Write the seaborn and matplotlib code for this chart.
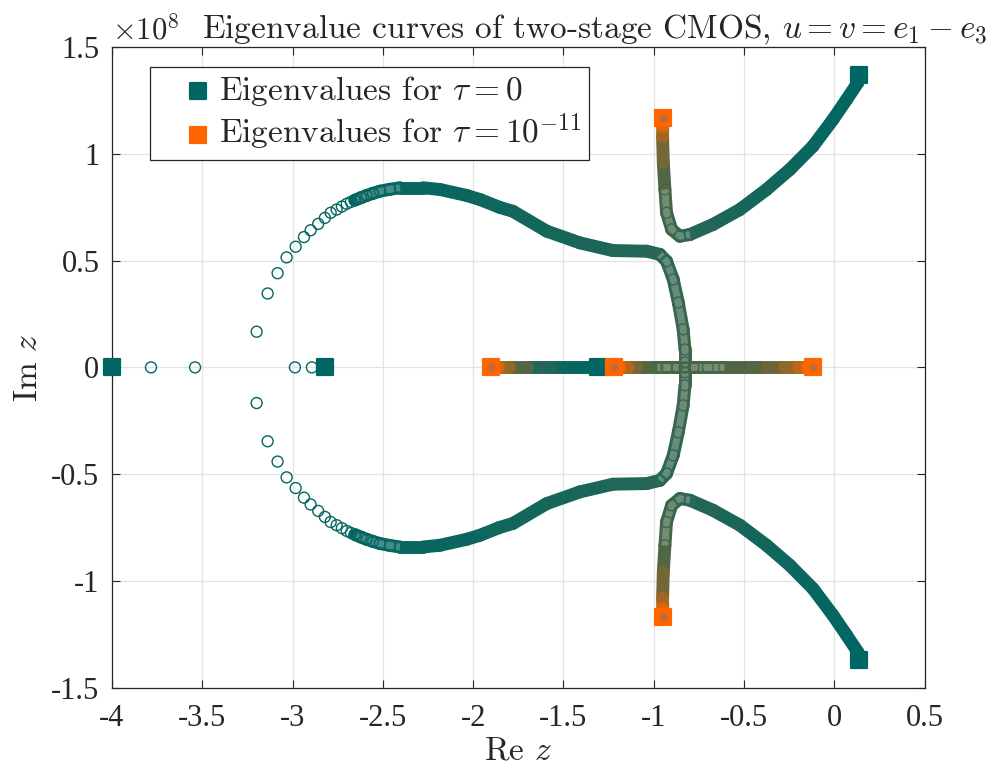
import numpy as np
import matplotlib
matplotlib.use("Agg")
import matplotlib.pyplot as plt
from matplotlib.collections import LineCollection
import seaborn as sns

# end colours: tau = 0 (teal) and tau = 1e-11 (orange)
teal = np.array([0.0, 0.40, 0.39])
orange = np.array([1.0, 0.40, 0.0])

# eigenvalues at the two ends (Im in units of 1e8)
ev0_re = [-4.0, -2.82, -1.31, 0.136, 0.136]
ev0_im = [0.0, 0.0, 0.0, 1.37, -1.37]
ev1_re = [-1.90, -1.22, -0.118, -0.947, -0.947]
ev1_im = [0.0, 0.0, 0.0, 1.168, -1.168]

# loose circles on the real axis near -4 and -2.8
axis_re = [-3.784, -3.54, -2.987, -2.893]
axis_s = [0.01, 0.01, 0.01, 0.01]

# left loop (upper half, conjugate drawn too): loose circles
loop_re = [-3.199, -3.138, -3.083, -3.033, -2.983, -2.937, -2.900, -2.858, -2.821, -2.789,
           -2.756, -2.727, -2.700, -2.677, -2.655]
loop_im = [0.167, 0.346, 0.441, 0.515, 0.565, 0.610, 0.642, 0.672, 0.700, 0.724,
           0.739, 0.753, 0.766, 0.775, 0.783]
# left loop: chain part
loopc_re = [-2.655, -2.620, -2.590, -2.555, -2.516, -2.460, -2.405]
loopc_im = [0.783, 0.795, 0.805, 0.815, 0.825, 0.834, 0.841]
loopc_s = [0.01, 0.02, 0.02, 0.02, 0.02, 0.03, 0.03]
# left loop: dense part
loopd_re = [-2.405, -2.278, -2.184, -2.036, -1.962, -1.852, -1.780, -1.593, -1.409, -1.226, -1.039, -0.966]
loopd_im = [0.841, 0.841, 0.833, 0.805, 0.786, 0.749, 0.731, 0.638, 0.583, 0.547, 0.544, 0.529]
loopd_s = [0.03, 0.03, 0.04, 0.05, 0.05, 0.06, 0.06, 0.08, 0.10, 0.12, 0.14, 0.15]
# left loop: descent to the real axis
desc_re = [-0.966, -0.929, -0.892, -0.864, -0.837, -0.827, -0.827]
desc_im = [0.529, 0.497, 0.412, 0.304, 0.178, 0.084, 0.023]
desc_s = [0.15, 0.17, 0.19, 0.21, 0.23, 0.24, 0.25]

# right branch from 0.136+1.37i
rb_re = [0.136, 0.131, 0.068, -0.008, -0.118, -0.246, -0.375, -0.523, -0.672, -0.800]
rb_im = [1.37, 1.334, 1.254, 1.160, 1.036, 0.927, 0.833, 0.739, 0.669, 0.622]
rb_s = [0.0, 0.0, 0.01, 0.02, 0.03, 0.05, 0.07, 0.09, 0.12, 0.16]
rbc_re = [-0.800, -0.855, -0.901, -0.929, -0.938]
rbc_im = [0.622, 0.614, 0.646, 0.724, 0.833]
rbc_s = [0.16, 0.20, 0.22, 0.25, 0.28]
rbu_re = [-0.938, -0.947, -0.951, -0.950, -0.947]
rbu_im = [0.833, 0.958, 1.082, 1.13, 1.168]
rbu_s = [0.28, 0.35, 0.55, 0.75, 1.0]

# real axis bands
ra_re = [-1.31, -1.50, -1.57, -1.70, -1.80, -1.86, -1.90]
ra_s = [0.0, 0.03, 0.06, 0.2, 0.45, 0.7, 1.0]
rlc_re = [-0.827, -0.87, -0.93, -0.98]
rlc_s = [0.25, 0.26, 0.28, 0.30]
rl_re = [-0.98, -1.09, -1.15, -1.19, -1.22]
rl_s = [0.30, 0.35, 0.6, 0.85, 1.0]
rrc_re = [-0.827, -0.78, -0.70, -0.61]
rrc_s = [0.25, 0.26, 0.28, 0.30]
rr_re = [-0.61, -0.45, -0.37, -0.28, -0.20, -0.15, -0.118]
rr_s = [0.30, 0.32, 0.35, 0.5, 0.65, 0.85, 1.0]

xticks = [-4, -3.5, -3, -2.5, -2, -1.5, -1, -0.5, 0, 0.5]
xlabels = ["-4", "-3.5", "-3", "-2.5", "-2", "-1.5", "-1", "-0.5", "0", "0.5"]
yticks = [-1.5, -1, -0.5, 0, 0.5, 1, 1.5]
ylabels = ["-1.5", "-1", "-0.5", "0", "0.5", "1", "1.5"]

sns.set_theme(style="whitegrid")
plt.rcParams["mathtext.fontset"] = "cm"
plt.rcParams["axes.unicode_minus"] = False

fig = plt.figure(figsize=(9.91, 7.71), dpi=100)
ax = fig.add_axes([0.113, 0.108, 0.820, 0.831])


def mix(s):
    s = np.clip(np.asarray(s, float), 0, 1)[:, None]
    return (1 - s) * teal + s * orange


def band(re, im, s, chain=False):
    im = np.asarray(im, float)
    s = np.asarray(s, float)
    for sign in ((1, -1) if im.any() else (1,)):
        pts = np.column_stack([re, sign * im])
        segs = np.stack([pts[:-1], pts[1:]], axis=1)
        cols = mix((s[:-1] + s[1:]) / 2)
        ax.add_collection(LineCollection(segs, colors=cols, linewidths=9.3,
                                         capstyle="round", zorder=2))
        if chain:
            # lighter core where the circles are less packed
            ax.plot(pts[:, 0], pts[:, 1], color="white", lw=5.0, alpha=0.25,
                    solid_capstyle="butt", solid_joinstyle="round", zorder=2.1)
            ax.scatter(pts[:, 0], pts[:, 1], s=62, facecolors="none",
                       edgecolors=mix(s), linewidths=1.0, zorder=2.2)


def circles(re, im, s):
    im = np.asarray(im, float)
    for sign in ((1, -1) if im.any() else (1,)):
        ax.scatter(re, sign * im, s=62, facecolors="none", edgecolors=mix(s),
                   linewidths=1.0, zorder=2.2, clip_on=False)


circles(axis_re, np.zeros(len(axis_re)), axis_s)
circles(loop_re, loop_im, np.full(len(loop_re), 0.01))
band(loopc_re, loopc_im, loopc_s, chain=True)
band(loopd_re, loopd_im, loopd_s)
band(desc_re, desc_im, desc_s, chain=True)
band(rb_re, rb_im, rb_s)
band(rbc_re, rbc_im, rbc_s, chain=True)
band(rbu_re, rbu_im, rbu_s)
band(ra_re, np.zeros(len(ra_re)), ra_s)
band(rlc_re, np.zeros(len(rlc_re)), rlc_s, chain=True)
band(rl_re, np.zeros(len(rl_re)), rl_s)
band(rrc_re, np.zeros(len(rrc_re)), rrc_s, chain=True)
band(rr_re, np.zeros(len(rr_re)), rr_s)

sns.scatterplot(x=ev0_re, y=ev0_im, marker="s", s=130, color=teal, edgecolor=teal,
                linewidth=1.6, joinstyle="round", ax=ax, zorder=5, clip_on=False,
                label=r"Eigenvalues for $\tau=0$")
sns.scatterplot(x=ev1_re, y=ev1_im, marker="s", s=130, color=orange, edgecolor=orange,
                linewidth=1.6, joinstyle="round", ax=ax, zorder=5, clip_on=False,
                label=r"Eigenvalues for $\tau=10^{-11}$")
ax.scatter(ev1_re, ev1_im, marker="o", s=28, color=(0.80, 0.40, 0.2), zorder=6)

ax.set_xlim(-4, 0.5)
ax.set_ylim(-1.5, 1.5)
ax.set_xticks(xticks)
ax.set_xticklabels(xlabels, fontfamily="Liberation Serif", fontsize=22)
ax.set_yticks(yticks)
ax.set_yticklabels(ylabels, fontfamily="Liberation Serif", fontsize=22)
ax.tick_params(direction="in", length=6, width=0.8, color="#262626",
               top=True, right=True, bottom=True, left=True)
ax.tick_params(axis="x", pad=12)
ax.tick_params(axis="y", pad=9)
ax.grid(True, color="#e3e3e3", linewidth=0.9)
for sp in ax.spines.values():
    sp.set_color("#262626")
    sp.set_linewidth(0.9)

ax.set_xlabel(r"Re $z$", fontfamily="cmr10", fontsize=24, labelpad=2)
ax.set_ylabel(r"Im $z$", fontfamily="cmr10", fontsize=24, labelpad=6)

fig.text(0.113, 0.962, r"$\times10^{8}$", fontsize=22, ha="left", va="center")
fig.text(0.600, 0.962, r"Eigenvalue curves of two-stage CMOS, $u=v=e_1-e_3$",
         fontfamily="cmr10", fontsize=24, ha="center", va="center")

leg = ax.legend(loc="upper left", bbox_to_anchor=(0.047, 0.969), borderaxespad=0,
                prop={"family": "cmr10", "size": 24}, frameon=True, fancybox=False,
                framealpha=1, edgecolor="#262626", borderpad=0.22, labelspacing=0.1,
                handletextpad=-0.55, handlelength=2.4, markerscale=1.05)
leg.get_frame().set_linewidth(0.9)

fig.savefig("out.png", dpi=100)
